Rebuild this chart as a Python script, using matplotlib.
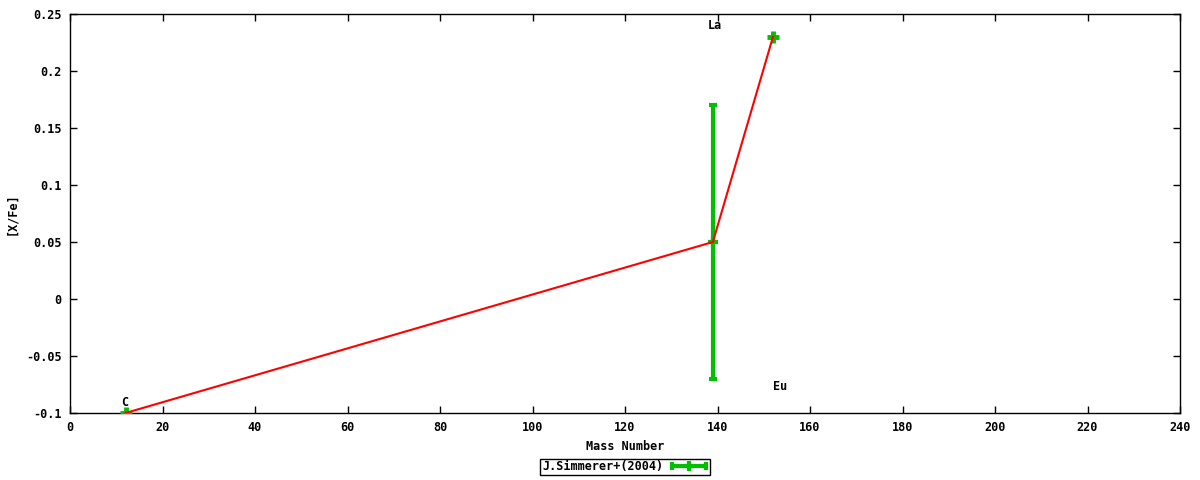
import numpy as np
import matplotlib
matplotlib.use("Agg")
import matplotlib.pyplot as plt
from matplotlib.legend_handler import HandlerErrorbar

# -------------------------------------------------------
# Data
# -------------------------------------------------------
elements = ["C", "La", "Eu"]
mass = [12, 139, 152]
xfe = [-0.1, 0.05, 0.23]
err_lo = [0.0, 0.12, 0.0]
err_hi = [0.0, 0.12, 0.0]

# label positions (as drawn in the reference)
label_x = [11.8, 139.5, 153.5]
label_y = [-0.091, 0.2395, -0.077]

series_name = "J.Simmerer+(2004)"
yticks = [-0.1, -0.05, 0, 0.05, 0.1, 0.15, 0.2, 0.25]
xticks = list(range(0, 241, 20))

GREEN = "#00c000"
RED = "#ff0000"

plt.rcParams["font.family"] = ["DejaVu Sans Mono"]
plt.rcParams["font.weight"] = "bold"
plt.rcParams["font.size"] = 8

fig = plt.figure(figsize=(12, 4.8), dpi=100)
ax = fig.add_axes([70 / 1200, 1 - 413 / 480, 1110 / 1200, 399 / 480])

# points with error bars (only La has a real error)
has_err = [i for i in range(len(mass)) if err_lo[i] > 0]
no_err = [i for i in range(len(mass)) if err_lo[i] == 0]
ax.errorbar([mass[i] for i in has_err], [xfe[i] for i in has_err],
            yerr=[[err_lo[i] for i in has_err], [err_hi[i] for i in has_err]],
            fmt="+", color=GREEN, ecolor=GREEN, elinewidth=3, capsize=3,
            capthick=3, ms=7, mew=3, zorder=3)
ax.plot([mass[i] for i in no_err], [xfe[i] for i in no_err], "+",
        color=GREEN, ms=8, mew=3.5, zorder=3)

# connecting line
ax.plot(mass, xfe, color=RED, lw=1.5, zorder=4)

# element labels
for name, lx, ly in zip(elements, label_x, label_y):
    ax.text(lx, ly, name, ha="center", va="center", fontsize=8.5,
            fontweight="bold")

# proxy for the key (horizontal sample like gnuplot)
proxy = ax.errorbar([np.nan], [np.nan], xerr=[1], fmt="+", color=GREEN,
                    ecolor=GREEN, elinewidth=3, capsize=3, capthick=3,
                    ms=7, mew=3, label=series_name)

ax.set_xlim(0, 240)
ax.set_ylim(-0.1, 0.25)
ax.set_xticks(xticks)
ax.set_yticks(yticks)
ax.set_yticklabels(["%g" % v for v in yticks])
ax.tick_params(direction="in", top=True, right=True, length=5, width=1,
               labelsize=8.5, pad=6)
for s in ax.spines.values():
    s.set_linewidth(1)

ax.set_xlabel("Mass Number", fontsize=8.5, fontweight="bold", labelpad=4)
ax.set_ylabel("[X/Fe]", fontsize=8.5, fontweight="bold", labelpad=6)

leg = ax.legend(handles=[proxy], labels=[series_name], loc="center",
                bbox_to_anchor=(0.5, -0.135), markerfirst=False,
                frameon=True, fancybox=False, edgecolor="black",
                framealpha=1, fontsize=8.5, borderpad=0.15,
                handlelength=3.2, handletextpad=0.6, borderaxespad=0,
                handler_map={type(proxy): HandlerErrorbar(xerr_size=1.45)})
leg.get_frame().set_linewidth(1)

fig.savefig("out.png", dpi=100)
